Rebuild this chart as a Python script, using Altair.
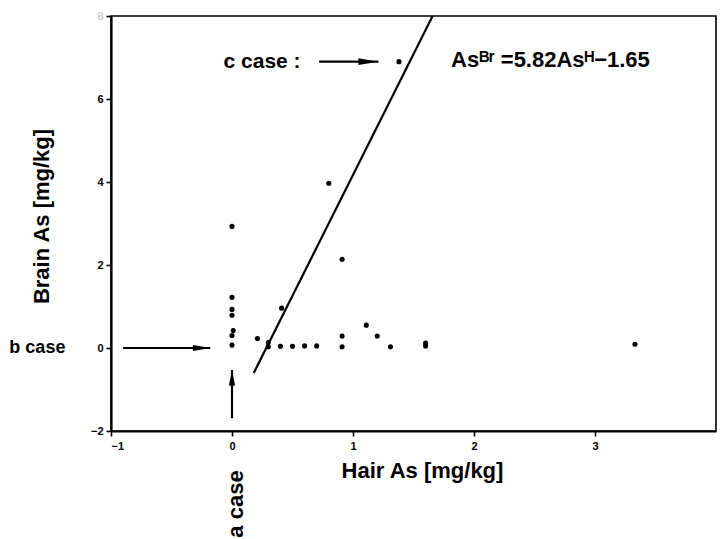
import altair as alt
import pandas as pd

FONT = "Liberation Sans"

# Hair vs. brain arsenic concentrations (mg/kg)
hair_as = [0.0, 0.0, 0.0, 0.0, 0.01, 0.0, 0.0, 0.21, 0.30, 0.30, 0.40, 0.50, 0.60,
           0.70, 0.41, 0.80, 0.91, 0.91, 0.91, 1.11, 1.20, 1.31, 1.60, 1.60, 3.33, 1.38]
brain_as = [2.93, 1.22, 0.93, 0.79, 0.42, 0.30, 0.07, 0.23, 0.13, 0.03, 0.04, 0.04, 0.05,
            0.05, 0.96, 3.97, 2.14, 0.29, 0.03, 0.55, 0.29, 0.03, 0.12, 0.05, 0.09, 6.90]

# Regression: As_Br = 5.82 * As_H - 1.65
slope = 5.82
intercept = -1.65
fit_x = [0.18, 1.658]
fit_y = [slope * v + intercept for v in fit_x]

# Annotation arrows (shaft start -> tip)
arrow_x = [0.72, -0.90, 0.0]
arrow_y = [6.90, 0.0, -1.69]
arrow_x2 = [1.21, -0.18, 0.0]
arrow_y2 = [6.90, 0.0, -0.53]
arrow_head = ["M-2,-0.33L0,0L-2,0.33Z", "M-2,-0.35L0,0L-2,0.35Z", "M-0.4,2L0,0L0.4,2Z"]
arrow_head_size = [400, 300, 240]

# Annotation labels
label_text = ["c case :", "b case", "As\u1D2E\u02B3 =5.82As\u1D34\u22121.65"]
label_x = [-0.07, -1.84, 1.81]
label_y = [6.90, 0.0, 6.95]
label_size = [21, 18, 22]

a_case_text = ["a case"]
a_case_x = [0.03]
a_case_y = [-4.57]

x_domain = [-1, 4]
y_domain = [-2, 8]
x_ticks = [-1, 0, 1, 2, 3]
y_ticks = [-2, 0, 2, 4, 6, 8]

points = pd.DataFrame({"hair": hair_as, "brain": brain_as})
fit = pd.DataFrame({"x": [fit_x[0]], "y": [fit_y[0]], "x2": [fit_x[1]], "y2": [fit_y[1]]})
arrows = pd.DataFrame({"x": arrow_x, "y": arrow_y, "x2": arrow_x2, "y2": arrow_y2,
                       "head": arrow_head, "hs": arrow_head_size})
labels = pd.DataFrame({"t": label_text, "x": label_x, "y": label_y, "s": label_size})
a_case = pd.DataFrame({"t": a_case_text, "x": a_case_x, "y": a_case_y})

xs = alt.Scale(domain=x_domain, nice=False, zero=False)
ys = alt.Scale(domain=y_domain, nice=False, zero=False)

x_axis = alt.Axis(values=x_ticks, format="d", title="Hair As [mg/kg]", grid=False,
                  labelFont=FONT, labelFontSize=11, labelFontWeight="bold",
                  labelColor="black", labelPadding=4,
                  domainColor="black", domainWidth=2.2,
                  tickColor="black", tickWidth=1.6, tickSize=5,
                  titleFont=FONT, titleFontSize=22, titleFontWeight="bold",
                  titleColor="black", titleX=311, titleY=39,
                  titleBaseline="middle", titleAlign="center")
y_axis = alt.Axis(values=y_ticks, format="d", title="Brain As [mg/kg]", grid=False,
                  labelFont=FONT, labelFontSize=11, labelFontWeight="bold",
                  labelColor=alt.condition("datum.value == 8", alt.value("#d0d0d0"), alt.value("black")),
                  labelPadding=3,
                  domainColor="black", domainWidth=2.2,
                  tickColor="black", tickWidth=1.6, tickSize=5,
                  titleFont=FONT, titleFontSize=22, titleFontWeight="bold",
                  titleColor="black", titleX=-70, titleY=200,
                  titleBaseline="middle", titleAlign="center", titleAngle=270)

dots = alt.Chart(points).mark_circle(color="black", size=26, opacity=1).encode(
    x=alt.X("hair:Q", scale=xs, axis=x_axis),
    y=alt.Y("brain:Q", scale=ys, axis=y_axis),
)

fit_line = alt.Chart(fit).mark_rule(color="black", strokeWidth=2.2).encode(
    x="x:Q", y="y:Q", x2="x2:Q", y2="y2:Q"
)

shafts = alt.Chart(arrows).mark_rule(color="black", strokeWidth=2.2).encode(
    x="x:Q", y="y:Q", x2="x2:Q", y2="y2:Q"
)

heads = alt.Chart(arrows).mark_point(filled=True, color="black", opacity=1, strokeWidth=0).encode(
    x="x2:Q", y="y2:Q",
    shape=alt.Shape("head:N", scale=None, legend=None),
    size=alt.Size("hs:Q", scale=None, legend=None),
)

texts = alt.Chart(labels).mark_text(
    align="left", baseline="middle", font=FONT, fontWeight="bold", color="black"
).encode(
    x="x:Q", y="y:Q", text="t:N",
    size=alt.Size("s:Q", scale=None, legend=None),
)

a_text = alt.Chart(a_case).mark_text(
    align="left", baseline="middle", angle=270, font=FONT, fontWeight="bold",
    fontSize=22, color="black"
).encode(x="x:Q", y="y:Q", text="t:N")

chart = alt.layer(fit_line, shafts, heads, dots, texts, a_text).properties(
    width=605, height=415,
    padding={"left": 111, "top": 16, "right": 4, "bottom": 108},
    autosize=alt.AutoSizeParams(type="none"),
    background="white",
).configure_view(stroke="black", strokeWidth=1.6)

chart.save("out.html", embed_options={"renderer": "svg", "actions": False})
